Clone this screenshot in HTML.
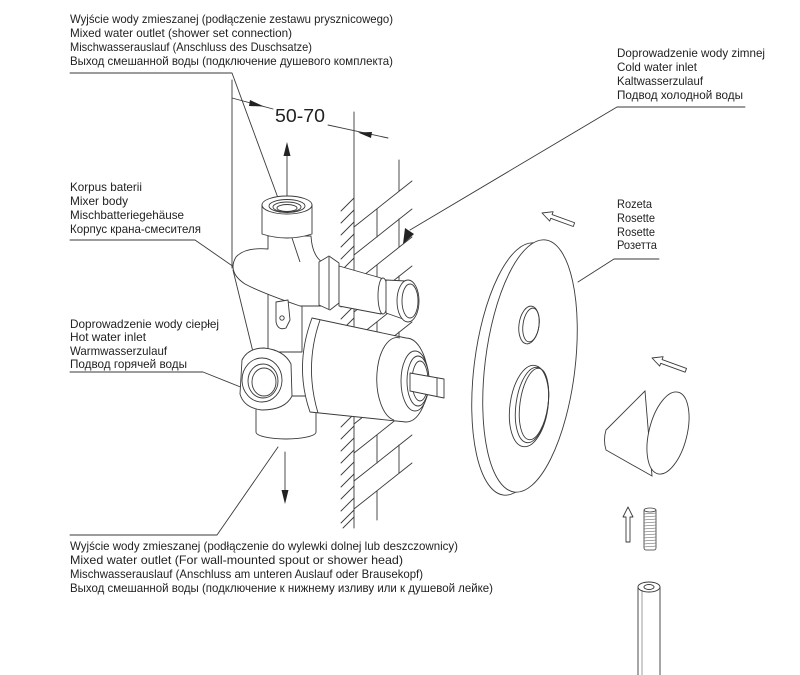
<!DOCTYPE html>
<html><head><meta charset="utf-8"><style>
html,body{margin:0;padding:0;background:#fff;}
svg{display:block;}
text{font-family:"Liberation Sans","DejaVu Sans",sans-serif;font-size:12px;fill:#222;}
</style></head><body>
<svg width="800" height="675" viewBox="0 0 800 675" xmlns="http://www.w3.org/2000/svg">
<rect width="800" height="675" fill="#fff"/>

<!-- TEXT BLOCKS -->
<g>
<text x="70" y="23" textLength="323" lengthAdjust="spacingAndGlyphs">Wyjście wody zmieszanej (podłączenie zestawu prysznicowego)</text>
<text x="70" y="37" textLength="222" lengthAdjust="spacingAndGlyphs">Mixed water outlet (shower set connection)</text>
<text x="70" y="51" textLength="242" lengthAdjust="spacingAndGlyphs">Mischwasserauslauf (Anschluss des Duschsatze)</text>
<text x="70" y="65" textLength="323" lengthAdjust="spacingAndGlyphs">Выход смешанной воды (подключение душевого комплекта)</text>

<text x="617" y="57" textLength="148" lengthAdjust="spacingAndGlyphs">Doprowadzenie wody zimnej</text>
<text x="617" y="71" textLength="80" lengthAdjust="spacingAndGlyphs">Cold water inlet</text>
<text x="617" y="85" textLength="86" lengthAdjust="spacingAndGlyphs">Kaltwasserzulauf</text>
<text x="617" y="99" textLength="126" lengthAdjust="spacingAndGlyphs">Подвод холодной воды</text>

<text x="70" y="191" textLength="72" lengthAdjust="spacingAndGlyphs">Korpus baterii</text>
<text x="70" y="205" textLength="58" lengthAdjust="spacingAndGlyphs">Mixer body</text>
<text x="70" y="219" textLength="114" lengthAdjust="spacingAndGlyphs">Mischbatteriegehäuse</text>
<text x="70" y="233" textLength="131" lengthAdjust="spacingAndGlyphs">Корпус крана-смесителя</text>

<text x="70" y="328" textLength="149" lengthAdjust="spacingAndGlyphs">Doprowadzenie wody ciepłej</text>
<text x="70" y="341" textLength="76" lengthAdjust="spacingAndGlyphs">Hot water inlet</text>
<text x="70" y="355" textLength="97" lengthAdjust="spacingAndGlyphs">Warmwasserzulauf</text>
<text x="70" y="368" textLength="117" lengthAdjust="spacingAndGlyphs">Подвод горячей воды</text>

<text x="617" y="208" textLength="35" lengthAdjust="spacingAndGlyphs">Rozeta</text>
<text x="617" y="222" textLength="38" lengthAdjust="spacingAndGlyphs">Rosette</text>
<text x="617" y="236" textLength="38" lengthAdjust="spacingAndGlyphs">Rosette</text>
<text x="617" y="249" textLength="40" lengthAdjust="spacingAndGlyphs">Розетта</text>

<text x="70" y="550" textLength="388" lengthAdjust="spacingAndGlyphs">Wyjście wody zmieszanej (podłączenie do wylewki dolnej lub deszczownicy)</text>
<text x="70" y="564" textLength="333" lengthAdjust="spacingAndGlyphs">Mixed water outlet (For wall-mounted spout or shower head)</text>
<text x="70" y="578" textLength="353" lengthAdjust="spacingAndGlyphs">Mischwasserauslauf (Anschluss am unteren Auslauf oder Brausekopf)</text>
<text x="70" y="592" textLength="423" lengthAdjust="spacingAndGlyphs">Выход смешанной воды (подключение к нижнему изливу или к душевой лейке)</text>

<text x="275" y="122" textLength="50" lengthAdjust="spacingAndGlyphs" style="font-size:18px">50-70</text>
</g>

<g fill="none" stroke="#3a3a3a" stroke-width="0.9" stroke-linecap="round" stroke-linejoin="round">
<!-- leaders -->
<polyline points="70,73 232,73 278,198"/>
<polyline points="70,240 195,240 257,283"/>
<polyline points="70,372 203,372 243,388"/>
<polyline points="70,535 217,535 278,447"/>
<polyline points="745,107 617,107 410,230"/>
<polyline points="659,259 614,259 578,282"/>

<!-- dimension -->
<line x1="232" y1="80" x2="232" y2="268"/>
<line x1="233" y1="270" x2="253" y2="352"/>
<line x1="232" y1="98" x2="273" y2="109"/>
<line x1="328" y1="125" x2="388" y2="138"/>

<!-- wall -->
<line x1="354" y1="112" x2="354" y2="528"/>
<g>
<line x1="341" y1="211" x2="354" y2="198"/><line x1="341" y1="223" x2="354" y2="210"/>
<line x1="341" y1="235" x2="354" y2="222"/><line x1="341" y1="247" x2="354" y2="234"/>
<line x1="341" y1="259" x2="354" y2="246"/><line x1="341" y1="271" x2="354" y2="258"/>
<line x1="341" y1="283" x2="354" y2="270"/><line x1="341" y1="295" x2="354" y2="282"/>
<line x1="341" y1="307" x2="354" y2="294"/><line x1="341" y1="319" x2="354" y2="306"/>
<line x1="341" y1="331" x2="354" y2="318"/><line x1="341" y1="343" x2="354" y2="330"/>
<line x1="341" y1="355" x2="354" y2="342"/><line x1="341" y1="367" x2="354" y2="354"/>
<line x1="341" y1="379" x2="354" y2="366"/><line x1="341" y1="391" x2="354" y2="378"/>
<line x1="341" y1="403" x2="354" y2="390"/><line x1="341" y1="415" x2="354" y2="402"/>
<line x1="341" y1="427" x2="354" y2="414"/><line x1="341" y1="439" x2="354" y2="426"/>
<line x1="341" y1="451" x2="354" y2="438"/><line x1="341" y1="463" x2="354" y2="450"/>
<line x1="341" y1="475" x2="354" y2="462"/><line x1="341" y1="487" x2="354" y2="474"/>
<line x1="341" y1="499" x2="354" y2="486"/><line x1="341" y1="511" x2="354" y2="498"/>
<line x1="341" y1="523" x2="354" y2="510"/><line x1="343" y1="528" x2="354" y2="517"/>
</g>
<g>
<line x1="354" y1="227" x2="412" y2="181"/><line x1="354" y1="255" x2="412" y2="209"/>
<line x1="354" y1="283" x2="412" y2="237"/><line x1="354" y1="312" x2="412" y2="266"/>
<line x1="354" y1="340" x2="412" y2="294"/><line x1="354" y1="368" x2="412" y2="322"/>
<line x1="354" y1="396" x2="412" y2="350"/><line x1="354" y1="424" x2="412" y2="378"/>
<line x1="354" y1="453" x2="412" y2="407"/><line x1="354" y1="481" x2="412" y2="435"/>
<line x1="354" y1="509" x2="412" y2="463"/>
<line x1="399" y1="160" x2="399" y2="191"/>
<line x1="377" y1="209" x2="377" y2="237"/><line x1="399" y1="219" x2="399" y2="247"/>
<line x1="377" y1="265" x2="377" y2="294"/><line x1="399" y1="276" x2="399" y2="304"/>
<line x1="377" y1="322" x2="377" y2="350"/><line x1="399" y1="332" x2="399" y2="360"/>
<line x1="377" y1="378" x2="377" y2="406"/><line x1="399" y1="388" x2="399" y2="417"/>
<line x1="377" y1="435" x2="377" y2="463"/><line x1="399" y1="445" x2="399" y2="473"/>
<line x1="377" y1="491" x2="377" y2="520"/>
</g>

<!-- arrows (flow) -->
<line x1="287" y1="150" x2="287" y2="206"/>
<line x1="285" y1="452" x2="285" y2="492"/>
</g>

<!-- filled arrowheads -->
<g fill="#222" stroke="none">
<polygon points="264,106.5 250,100 249,106"/>
<polygon points="358,132.5 372,132 371,138"/>
<polygon points="287,142 283.5,156 290.5,156"/>
<polygon points="285,504 281.5,490 288.5,490"/>
<polygon points="403,244 405,228 414,234"/>
</g>

<!-- MIXER -->
<g fill="#fff" stroke="#3a3a3a" stroke-width="0.9" stroke-linejoin="round">
<!-- column -->
<path d="M268,288 L268,352 L302,352 L302,300 Z"/>
<!-- bottom outlet -->
<path d="M256,396 L256,432 A30,7 0 0 0 316,432 L316,396 Z"/>
<!-- cartridge body -->
<path d="M312,318 L406,338 A22,42 0 0 1 406,422 L310,412 Q294,366 312,318 Z"/>
<path d="M320,320 Q304,366 318,413" fill="none"/>
<path d="M400,338 A20,41 0 0 0 394,420" fill="none"/>
<ellipse cx="415" cy="381" rx="14" ry="30"/>
<ellipse cx="418" cy="381" rx="11" ry="25"/>
<ellipse cx="420" cy="381" rx="8" ry="20"/>
<!-- spindle -->
<polygon points="410,373 444,379 444,398 410,391"/>
<line x1="437" y1="378" x2="437" y2="396"/>
<!-- hot boss -->
<path d="M242,360 Q248,348 264,348 Q284,350 291,364 L292,396 Q285,410 262,410 Q244,408 240,394 Z"/>
<ellipse cx="262" cy="380" rx="20" ry="22"/>
<ellipse cx="263" cy="381" rx="15" ry="17"/>
<ellipse cx="264" cy="382" rx="12" ry="14"/>
<!-- upper lozenge -->
<path d="M268,236 L268,249 Q245,247 236,257 Q227,272 245,284 Q262,293 300,306 L322,306 L322,262 Q312,255 311,236 Z"/>
<line x1="292" y1="238" x2="300" y2="262"/>
<!-- bracket -->
<path d="M276,302 L276,322 Q278,331 286,328 L290,320 L288,300 Z"/>
<circle cx="282" cy="318" r="2.2"/>
<!-- top fitting -->
<path d="M262,205 L262,234 Q287,242 312,234 L312,205 Z"/>
<ellipse cx="287" cy="205" rx="25" ry="9"/>
<ellipse cx="287" cy="206" rx="18" ry="6.5"/>
<ellipse cx="287" cy="207" rx="14" ry="5"/>
<ellipse cx="287" cy="208" rx="10" ry="3.5"/>
<!-- nut -->
<path d="M319,262 L329,256 L339,263 L339,303 L330,310 L319,305 Z"/>
<line x1="329" y1="257" x2="329" y2="309"/>
<!-- pipe -->
<polygon points="339,266 381,278 381,314 339,306"/>
<ellipse cx="383" cy="296" rx="5" ry="18"/>
<polygon points="386,280 406,281 406,320 386,313"/>
<ellipse cx="408" cy="301" rx="11" ry="21"/>
<ellipse cx="410" cy="301" rx="8" ry="17" fill="none"/>
</g>

<!-- ROSETTE -->
<g fill="#fff" stroke="#3a3a3a" stroke-width="0.9">
<ellipse cx="519" cy="369" rx="45" ry="127" transform="rotate(7 519 369)"/>
<ellipse cx="530" cy="366" rx="45" ry="127" transform="rotate(7 530 366)"/>
<ellipse cx="529" cy="325" rx="10" ry="19" transform="rotate(8 529 325)"/>
<ellipse cx="531" cy="325" rx="8" ry="17" fill="none" transform="rotate(8 531 325)"/>
<ellipse cx="529" cy="406" rx="19" ry="41" transform="rotate(8 529 406)"/>
<ellipse cx="532" cy="405" rx="16" ry="38" fill="none" transform="rotate(8 532 405)"/>
<ellipse cx="534" cy="404" rx="14" ry="36" fill="none" transform="rotate(8 534 404)"/>
</g>

<!-- KNOB -->
<g fill="#fff" stroke="#3a3a3a" stroke-width="0.9">
<path d="M645,391 L606,430 Q603,440 606,450 L652,476 Z"/>
<ellipse cx="668" cy="433" rx="19" ry="42" transform="rotate(14 668 433)"/>
</g>

<!-- hollow arrows -->
<g fill="#fff" stroke="#3a3a3a" stroke-width="0.9" stroke-linejoin="round">
<polygon points="0,0 10,-5 10,-2 34,-2 34,2 10,2 10,5" transform="translate(542,213) rotate(20)"/>
<polygon points="0,0 10,-5 10,-2 36,-2 36,2 10,2 10,5" transform="translate(652,358) rotate(20)"/>
<polygon points="0,0 10,-5 10,-2 35,-2 35,2 10,2 10,5" transform="translate(628,507) rotate(90)"/>
</g>

<!-- stud -->
<g fill="#fff" stroke="#3a3a3a" stroke-width="0.8">
<rect x="644" y="509" width="12" height="41" rx="2"/>
<ellipse cx="650" cy="510" rx="6" ry="2"/>
</g>
<g stroke="#555" stroke-width="0.6">
<line x1="644" y1="514" x2="656" y2="513"/><line x1="644" y1="517" x2="656" y2="516"/>
<line x1="644" y1="520" x2="656" y2="519"/><line x1="644" y1="523" x2="656" y2="522"/>
<line x1="644" y1="526" x2="656" y2="525"/><line x1="644" y1="529" x2="656" y2="528"/>
<line x1="644" y1="532" x2="656" y2="531"/><line x1="644" y1="535" x2="656" y2="534"/>
<line x1="644" y1="538" x2="656" y2="537"/><line x1="644" y1="541" x2="656" y2="540"/>
<line x1="644" y1="544" x2="656" y2="543"/><line x1="644" y1="547" x2="656" y2="546"/>
</g>

<!-- rod -->
<g fill="#fff" stroke="#3a3a3a" stroke-width="0.9">
<path d="M638,587 L638,680 L660,680 L660,587"/>
<ellipse cx="649" cy="587" rx="11" ry="5"/>
<ellipse cx="649" cy="587" rx="5" ry="2.5"/>
<line x1="642" y1="590" x2="642" y2="675" stroke-width="0.5"/>
</g>
</svg>
</body></html>
